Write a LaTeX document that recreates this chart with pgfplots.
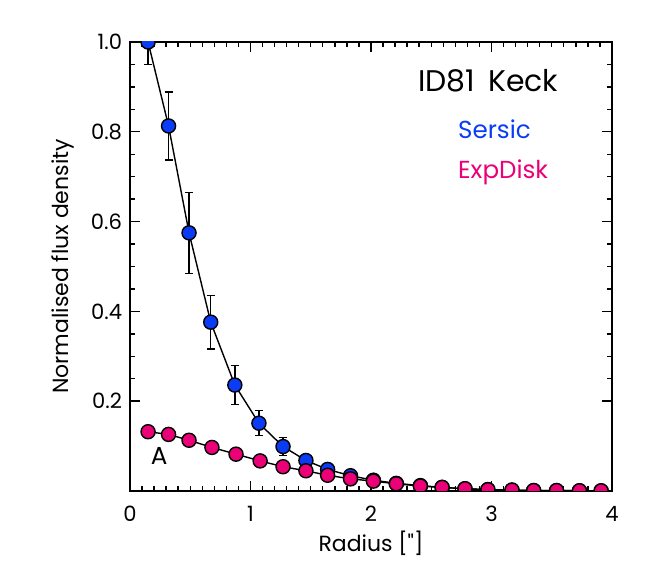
\documentclass[border=0pt]{standalone}
\usepackage{pgfplots}
\pgfplotsset{compat=1.18}
\usepackage{fontspec}
\setmainfont{Poppins}
\newfontfamily\rawfont{Poppins}
\definecolor{sersic}{RGB}{10,60,245}
\definecolor{expdisk}{RGB}{235,0,120}

\begin{document}
\begin{tikzpicture}
\useasboundingbox (-2.6cm,-1.76cm) rectangle (10.46cm,9.82cm);
\begin{axis}[
    at={(0,0)}, anchor=origin,
    scale only axis,
    width=9.64cm, height=8.98cm,
    xmin=0, xmax=4,
    ymin=0, ymax=1.0,
    xtick={0,1,2,3,4},
    ytick={0.2,0.4,0.6,0.8,1.0},
    minor x tick num=9,
    minor y tick num=3,
    tick align=inside,
    major tick length=0.2cm,
    minor tick length=0.1cm,
    axis line style={line width=0.9pt},
    every tick/.style={black, line width=0.8pt},
    /pgf/number format/assume math mode=true,
    yticklabel style={/pgf/number format/fixed, /pgf/number format/fixed zerofill, /pgf/number format/precision=1, font=\fontsize{12}{14}\selectfont},
    xticklabel style={font=\fontsize{12}{14}\selectfont},
    xticklabel shift=5pt,
    yticklabel shift=1pt,
    xlabel={Radius [{\rawfont "}]},
    ylabel={Normalised flux density},
    label style={font=\fontsize{12.5}{14}\selectfont},
    xlabel style={at={(axis description cs:0.5,-0.116)}, anchor=center},
    ylabel style={at={(axis description cs:-0.139,0.5)}, anchor=center, rotate=0},
    clip marker paths=true,
]
% Sersic profile
\addplot[line width=0.8pt, black, mark=*, mark size=4pt,
    mark options={fill=sersic, draw=black, line width=0.8pt},
    error bars/.cd, y dir=both, y explicit,
    error bar style={line width=0.8pt, black},
    error mark options={rotate=90, mark size=2.3pt, line width=0.8pt, black}]
coordinates {
(0.15,1.000) +- (0,0.050)
(0.32,0.813) +- (0,0.076)
(0.49,0.575) +- (0,0.090)
(0.67,0.376) +- (0,0.060)
(0.87,0.236) +- (0,0.044)
(1.07,0.151) +- (0,0.028)
(1.27,0.099) +- (0,0.020)
(1.46,0.068) +- (0,0.010)
(1.64,0.048) +- (0,0.006)
(1.83,0.034) +- (0,0.004)
(2.02,0.024) +- (0,0.003)
(2.21,0.017) +- (0,0.002)
(2.41,0.012) +- (0,0.002)
(2.59,0.008) +- (0,0.001)
(2.78,0.005) +- (0,0.001)
(2.97,0.003) +- (0,0.001)
(3.17,0.002) +- (0,0.000)
(3.35,0.001) +- (0,0.000)
(3.54,0.001) +- (0,0.000)
(3.73,0.0005) +- (0,0.000)
(3.91,0.0003) +- (0,0.000)
};
% Exponential disk profile
\addplot[line width=0.8pt, black, mark=*, mark size=4pt,
    mark options={fill=expdisk, draw=black, line width=0.8pt}]
coordinates {
(0.15,0.132) (0.32,0.126) (0.49,0.113) (0.68,0.097) (0.88,0.082)
(1.08,0.067) (1.27,0.054) (1.46,0.045) (1.64,0.035) (1.83,0.027)
(2.02,0.022) (2.21,0.016) (2.41,0.011) (2.59,0.008) (2.78,0.005)
(2.97,0.003) (3.17,0.002) (3.35,0.001) (3.54,0.001) (3.73,0.0005)
(3.91,0.0003)
};
\node[anchor=base west, inner sep=0pt, font=\fontsize{17}{19}\selectfont] at (axis cs:2.39,0.889) {ID81\, Keck};
\node[anchor=base west, inner sep=0pt, text=sersic, font=\fontsize{14}{16}\selectfont] at (axis cs:2.72,0.786) {Sersic};
\node[anchor=base west, inner sep=0pt, text=expdisk, font=\fontsize{14}{16}\selectfont] at (axis cs:2.72,0.697) {ExpDisk};
\node[anchor=base west, inner sep=0pt, font=\fontsize{14}{16}\selectfont] at (axis cs:0.17,0.058) {A};
\end{axis}
\end{tikzpicture}
\end{document}
